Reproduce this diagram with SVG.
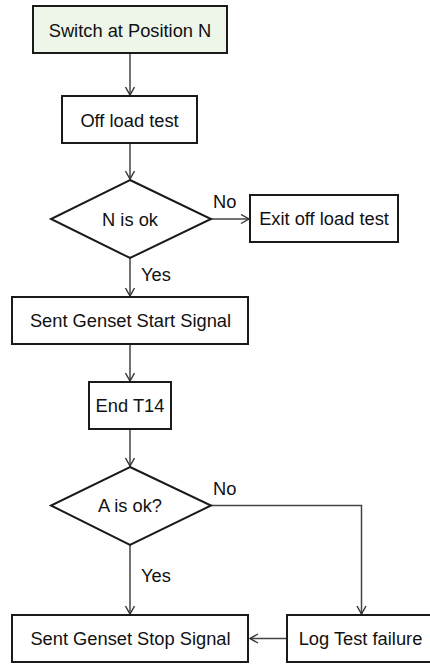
<svg xmlns="http://www.w3.org/2000/svg" width="430" height="664" viewBox="0 0 430 664">
<defs>
<marker id="arr" markerWidth="12" markerHeight="12" refX="9" refY="5" orient="auto" markerUnits="userSpaceOnUse">
<path d="M1,0.5 L9,5 L1,9.5" fill="none" stroke="#333" stroke-width="1.4"/>
</marker>
<style>
.box{fill:#fff;stroke:#1a1a1a;stroke-width:2}
.start{fill:#eef6ea}
.t{font-family:"Liberation Sans",Arial,sans-serif;font-size:18.3px;fill:#111;text-anchor:middle}
.lbl{font-family:"Liberation Sans",Arial,sans-serif;font-size:18.3px;fill:#111}
.c{fill:none;stroke:#444;stroke-width:1.5}
</style>
</defs>
<rect width="430" height="664" fill="#fff"/>
<g id="connectors">
<path class="c" d="M130,53 V95" marker-end="url(#arr)"/>
<path class="c" d="M130,143 V179" marker-end="url(#arr)"/>
<path class="c" d="M211,219 H249" marker-end="url(#arr)"/>
<path class="c" d="M130,258 V296" marker-end="url(#arr)"/>
<path class="c" d="M130,344 V381" marker-end="url(#arr)"/>
<path class="c" d="M130,429 V466" marker-end="url(#arr)"/>
<path class="c" d="M211,505.5 H361.5 V614" marker-end="url(#arr)"/>
<path class="c" d="M130,545 V614" marker-end="url(#arr)"/>
<path class="c" d="M287,638.5 H250" marker-end="url(#arr)"/>
<text class="lbl" x="213" y="208">No</text>
<text class="lbl" x="141" y="281">Yes</text>
<text class="lbl" x="213" y="495">No</text>
<text class="lbl" x="141" y="582">Yes</text>
</g>
<g id="n1"><rect class="box start" x="33" y="6" width="194" height="47"/><text class="t" x="130" y="36.5">Switch at Position N</text></g>
<g id="n2"><rect class="box" x="62" y="96" width="135" height="47"/><text class="t" x="129.5" y="126.5">Off load test</text></g>
<g id="n3"><polygon class="box" points="130,180 211,219 130,258 51,219"/><text class="t" x="130" y="225.5">N is ok</text></g>
<g id="n4"><rect class="box" x="250" y="195" width="148" height="47"/><text class="t" x="324" y="225">Exit off load test</text></g>
<g id="n5"><rect class="box" x="12" y="297" width="236" height="47"/><text class="t" x="130.5" y="327">Sent Genset Start Signal</text></g>
<g id="n6"><rect class="box" x="89" y="382" width="82" height="47"/><text class="t" x="130" y="412">End T14</text></g>
<g id="n7"><polygon class="box" points="130,467 211,505.5 130,545 51,505.5"/><text class="t" x="130" y="511.5">A is ok?</text></g>
<g id="n8"><rect class="box" x="287" y="615" width="148" height="47"/><text class="t" x="360.5" y="645">Log Test failure</text></g>
<g id="n9"><rect class="box" x="12" y="615" width="236" height="47"/><text class="t" x="130.5" y="645">Sent Genset Stop Signal</text></g>
</svg>
